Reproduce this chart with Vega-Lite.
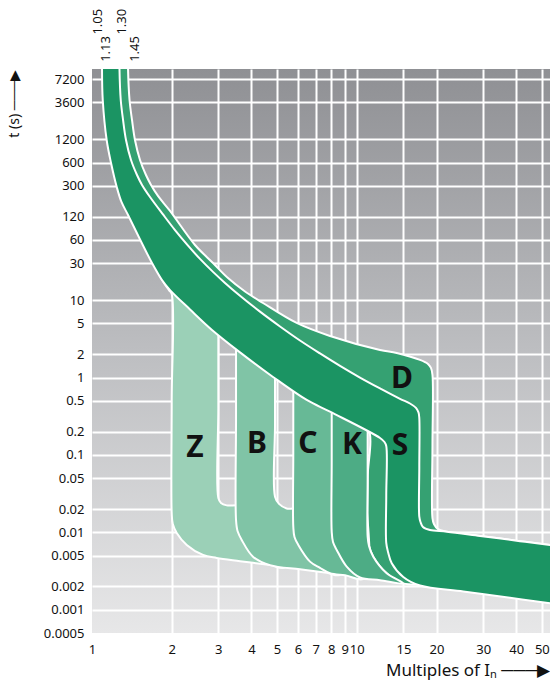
{
  "$schema": "https://vega.github.io/schema/vega-lite/v6.json",
  "width": 458,
  "height": 564,
  "autosize": {"type": "none"},
  "padding": {"left": 92, "top": 69, "right": 0, "bottom": 55},
  "background": "#ffffff",
  "view": {
    "stroke": null,
    "fill": {"gradient": "linear", "x1": 0, "y1": 0, "x2": 0, "y2": 1,
      "stops": [{"offset": 0, "color": "#8f9094"}, {"offset": 0.5, "color": "#bdbec1"}, {"offset": 1, "color": "#e7e7e8"}]}
  },
  "config": {"font": "Noto Sans"},
  "datasets": {
    "S": [
      {"x": 1.091, "t": 17000}, {"x": 1.27, "t": 17000}, {"x": 1.27, "t": 9700}, {"x": 1.284, "t": 3857},
      {"x": 1.31, "t": 2128}, {"x": 1.344, "t": 1173}, {"x": 1.404, "t": 647}, {"x": 1.479, "t": 414},
      {"x": 1.545, "t": 308}, {"x": 1.656, "t": 215}, {"x": 1.854, "t": 128}, {"x": 2.058, "t": 80.4},
      {"x": 2.305, "t": 50.6}, {"x": 2.558, "t": 34.1}, {"x": 2.864, "t": 23.2}, {"x": 3.179, "t": 16.7},
      {"x": 3.622, "t": 11.4}, {"x": 4.309, "t": 7.1}, {"x": 5.129, "t": 4.57}, {"x": 6.102, "t": 3.01},
      {"x": 7.261, "t": 2.05}, {"x": 8.643, "t": 1.415}, {"x": 10.28, "t": 1.0}, {"x": 12.24, "t": 0.723},
      {"x": 14.56, "t": 0.53}, {"x": 15.88, "t": 0.462}, {"x": 16.73, "t": 0.405}, {"x": 17.1, "t": 0.354},
      {"x": 17.22, "t": 0.3}, {"x": 17.22, "t": 0.07}, {"x": 17.22, "t": 0.0159}, {"x": 17.4, "t": 0.0136},
      {"x": 17.78, "t": 0.0117}, {"x": 18.9, "t": 0.0107}, {"x": 21.86, "t": 0.0102}, {"x": 29.19, "t": 0.00898},
      {"x": 41.33, "t": 0.00769}, {"x": 53.66, "t": 0.00687}, {"x": 60, "t": 0.00653}, {"x": 60, "t": 0.00115},
      {"x": 53.66, "t": 0.00121}, {"x": 37.88, "t": 0.001424}, {"x": 25.25, "t": 0.00172}, {"x": 17.33, "t": 0.00205},
      {"x": 14.98, "t": 0.00265}, {"x": 13.55, "t": 0.00399}, {"x": 13.12, "t": 0.00558}, {"x": 12.92, "t": 0.00729},
      {"x": 12.92, "t": 0.03}, {"x": 12.92, "t": 0.1306}, {"x": 12.72, "t": 0.147}, {"x": 12.24, "t": 0.1657},
      {"x": 7.922, "t": 0.362}, {"x": 6.47, "t": 0.513}, {"x": 4.826, "t": 1.017}, {"x": 3.622, "t": 2.115},
      {"x": 2.839, "t": 4.12}, {"x": 2.345, "t": 7.58}, {"x": 1.971, "t": 13.5}, {"x": 1.838, "t": 18.2},
      {"x": 1.685, "t": 30.2}, {"x": 1.522, "t": 59.9}, {"x": 1.368, "t": 126}, {"x": 1.292, "t": 185.6},
      {"x": 1.24, "t": 290}, {"x": 1.18, "t": 592}, {"x": 1.136, "t": 1173}, {"x": 1.098, "t": 3857},
      {"x": 1.091, "t": 9700}
    ],
    "D": [
      {"x": 1.178, "t": 17000}, {"x": 1.368, "t": 17000}, {"x": 1.368, "t": 9700}, {"x": 1.386, "t": 3857},
      {"x": 1.416, "t": 2128}, {"x": 1.453, "t": 1173}, {"x": 1.518, "t": 647}, {"x": 1.599, "t": 414},
      {"x": 1.671, "t": 308}, {"x": 1.775, "t": 222}, {"x": 1.971, "t": 142}, {"x": 2.449, "t": 51.6},
      {"x": 2.864, "t": 30.2}, {"x": 3.263, "t": 19.3}, {"x": 3.783, "t": 12.94}, {"x": 4.424, "t": 9.19},
      {"x": 5.929, "t": 5.07}, {"x": 7.922, "t": 3.44}, {"x": 12.24, "t": 2.27}, {"x": 14.15, "t": 2.08},
      {"x": 17.33, "t": 1.69}, {"x": 18.57, "t": 1.5}, {"x": 19.06, "t": 1.33}, {"x": 19.31, "t": 1.08},
      {"x": 19.31, "t": 0.13}, {"x": 19.31, "t": 0.0153}, {"x": 19.56, "t": 0.0128}, {"x": 20.26, "t": 0.011},
      {"x": 21.86, "t": 0.0102}, {"x": 29.19, "t": 0.00898}, {"x": 41.33, "t": 0.00769}, {"x": 53.66, "t": 0.00687},
      {"x": 60, "t": 0.00653}, {"x": 60, "t": 0.00326}, {"x": 35, "t": 0.0026}, {"x": 18.9, "t": 0.00215},
      {"x": 14.98, "t": 0.00219}, {"x": 12.97, "t": 0.00296}, {"x": 11.54, "t": 0.00485}, {"x": 11.12, "t": 0.00667},
      {"x": 10.99, "t": 0.00879}, {"x": 10.99, "t": 0.05}, {"x": 10.99, "t": 0.244}, {"x": 7.922, "t": 0.778},
      {"x": 5.929, "t": 1.454}, {"x": 4.424, "t": 3.06}, {"x": 2.839, "t": 8.92}, {"x": 1.971, "t": 38.3},
      {"x": 1.518, "t": 146}, {"x": 1.254, "t": 872}, {"x": 1.187, "t": 3857}, {"x": 1.178, "t": 9700}
    ],
    "Z": [
      {"x": 2.558, "t": 10.05}, {"x": 1.729, "t": 31.1}, {"x": 1.775, "t": 23.1}, {"x": 1.87, "t": 16.7},
      {"x": 1.953, "t": 13.5}, {"x": 2.0, "t": 12.0}, {"x": 2.0, "t": 0.5}, {"x": 2.0, "t": 0.0178},
      {"x": 2.019, "t": 0.0128}, {"x": 2.089, "t": 0.00982}, {"x": 2.279, "t": 0.00687}, {"x": 2.626, "t": 0.0051},
      {"x": 2.957, "t": 0.00467}, {"x": 3.622, "t": 0.00424}, {"x": 4.701, "t": 0.00377}, {"x": 5.356, "t": 0.00354},
      {"x": 5.356, "t": 0.0168}, {"x": 3.952, "t": 0.0168}, {"x": 3.952, "t": 0.0219}, {"x": 3.227, "t": 0.0223},
      {"x": 3.07, "t": 0.024}, {"x": 3.0, "t": 0.0278}, {"x": 3.0, "t": 0.4}, {"x": 3.0, "t": 5.55}
    ],
    "B": [
      {"x": 3.499, "t": 4.78}, {"x": 3.499, "t": 0.3}, {"x": 3.499, "t": 0.01445}, {"x": 3.545, "t": 0.0104},
      {"x": 3.676, "t": 0.00797}, {"x": 4.055, "t": 0.00485}, {"x": 4.701, "t": 0.00377}, {"x": 6.102, "t": 0.00333},
      {"x": 7.697, "t": 0.003}, {"x": 8.643, "t": 0.00284}, {"x": 8.643, "t": 0.01445}, {"x": 6.102, "t": 0.01445},
      {"x": 6.102, "t": 0.02}, {"x": 5.436, "t": 0.0203}, {"x": 5.085, "t": 0.0233}, {"x": 4.911, "t": 0.0289},
      {"x": 4.911, "t": 0.25}, {"x": 4.911, "t": 1.687}
    ],
    "C": [
      {"x": 5.757, "t": 1.08}, {"x": 5.757, "t": 0.1}, {"x": 5.757, "t": 0.01184}, {"x": 5.817, "t": 0.00871},
      {"x": 6.013, "t": 0.00687}, {"x": 6.659, "t": 0.00418}, {"x": 7.261, "t": 0.00347}, {"x": 7.922, "t": 0.00296},
      {"x": 9.026, "t": 0.00278}, {"x": 10.74, "t": 0.00256}, {"x": 10.74, "t": 0.05}, {"x": 10.74, "t": 0.513}
    ],
    "K": [
      {"x": 8.04, "t": 0.596}, {"x": 8.04, "t": 0.08}, {"x": 8.04, "t": 0.0102}, {"x": 8.131, "t": 0.00751},
      {"x": 8.397, "t": 0.00592}, {"x": 9.161, "t": 0.0036}, {"x": 10.28, "t": 0.00261}, {"x": 12.24, "t": 0.00241},
      {"x": 14.98, "t": 0.00219}, {"x": 12.97, "t": 0.00296}, {"x": 11.54, "t": 0.00485}, {"x": 11.12, "t": 0.00667},
      {"x": 10.99, "t": 0.00879}, {"x": 10.99, "t": 0.05}, {"x": 10.99, "t": 0.329}
    ],
    "letters": [
      {"name": "Z", "x": 2.449, "t": 0.123}, {"name": "B", "x": 4.2, "t": 0.139}, {"name": "C", "x": 6.54, "t": 0.139},
      {"name": "K", "x": 9.59, "t": 0.135}, {"name": "S", "x": 14.56, "t": 0.131}, {"name": "D", "x": 14.82, "t": 0.958}
    ],
    "toplabels": [
      {"name": "1.05", "x": 1.05, "t": 27000}, {"name": "1.13", "x": 1.13, "t": 12000},
      {"name": "1.30", "x": 1.3, "t": 27000}, {"name": "1.45", "x": 1.45, "t": 12000}
    ]
  },
  "encoding": {
    "x": {
      "field": "x", "type": "quantitative",
      "scale": {"type": "log", "domain": [1, 53.66], "nice": false},
      "axis": {
        "values": [1, 2, 3, 4, 5, 6, 7, 8, 9, 10, 15, 20, 30, 40, 50],
        "format": "~g", "domain": false, "ticks": false, "labelOverlap": false, "labelBound": false, "labelFlush": false,
        "labelPadding": 10, "labelFontSize": 13, "labelColor": "#111111", "labelFont": "Noto Sans",
        "grid": true, "gridWidth": 2, "gridOpacity": 1,
        "gridColor": {"condition": {"test": "datum.value <= 1", "value": "transparent"}, "value": "#ffffff"},
        "title": "Multiples of Iₙ ───▶", "titleAnchor": "end", "titleFontSize": 17, "titleFontWeight": "normal",
        "titleColor": "#111111", "titlePadding": 6, "titleFont": "Noto Sans"
      }
    },
    "y": {
      "field": "t", "type": "quantitative",
      "scale": {"type": "log", "domain": [0.0005, 9700], "nice": false},
      "axis": {
        "values": [0.0005, 0.001, 0.002, 0.005, 0.01, 0.02, 0.05, 0.1, 0.2, 0.5, 1, 2, 5, 10, 30, 60, 120, 300, 600, 1200, 3600, 7200],
        "format": "~g", "domain": false, "ticks": false, "labelOverlap": false, "labelBound": false, "labelFlush": false,
        "labelPadding": 8, "labelFontSize": 13, "labelColor": "#111111", "labelFont": "Noto Sans",
        "grid": true, "gridWidth": 2, "gridOpacity": 1,
        "gridColor": {"condition": {"test": "datum.value < 0.0006", "value": "transparent"}, "value": "#ffffff"},
        "title": "t (s)  ───▶", "titleAnchor": "end", "titleFontSize": 14, "titleFontWeight": "normal",
        "titleColor": "#111111", "titlePadding": 22, "titleFont": "Noto Sans"
      }
    }
  },
  "layer": [
    {"data": {"name": "D"}, "mark": {"type": "line", "interpolate": "catmull-rom", "filled": true, "fill": "#35a172", "stroke": "#ffffff", "strokeWidth": 2, "strokeJoin": "round", "clip": true}, "encoding": {"order": {"value": null}}},
    {"data": {"name": "Z"}, "mark": {"type": "line", "interpolate": "catmull-rom", "filled": true, "fill": "#9bd0b7", "stroke": "#ffffff", "strokeWidth": 2, "strokeJoin": "round", "clip": true}, "encoding": {"order": {"value": null}}},
    {"data": {"name": "B"}, "mark": {"type": "line", "interpolate": "catmull-rom", "filled": true, "fill": "#80c4a6", "stroke": "#ffffff", "strokeWidth": 2, "strokeJoin": "round", "clip": true}, "encoding": {"order": {"value": null}}},
    {"data": {"name": "C"}, "mark": {"type": "line", "interpolate": "catmull-rom", "filled": true, "fill": "#67b996", "stroke": "#ffffff", "strokeWidth": 2, "strokeJoin": "round", "clip": true}, "encoding": {"order": {"value": null}}},
    {"data": {"name": "K"}, "mark": {"type": "line", "interpolate": "catmull-rom", "filled": true, "fill": "#4dac85", "stroke": "#ffffff", "strokeWidth": 2, "strokeJoin": "round", "clip": true}, "encoding": {"order": {"value": null}}},
    {"data": {"name": "S"}, "mark": {"type": "line", "interpolate": "catmull-rom", "filled": true, "fill": "#1b9463", "stroke": "#ffffff", "strokeWidth": 2, "strokeJoin": "round", "clip": true}, "encoding": {"order": {"value": null}}},
    {"data": {"name": "letters"}, "mark": {"type": "text", "font": "Noto Sans", "fontSize": 30, "fontWeight": "bold", "color": "#111111", "align": "center", "baseline": "middle"}, "encoding": {"text": {"field": "name"}}},
    {"data": {"name": "toplabels"}, "mark": {"type": "text", "font": "Noto Sans", "fontSize": 13, "color": "#111111", "angle": 270, "align": "left", "baseline": "middle"}, "encoding": {"text": {"field": "name"}}}
  ]
}
